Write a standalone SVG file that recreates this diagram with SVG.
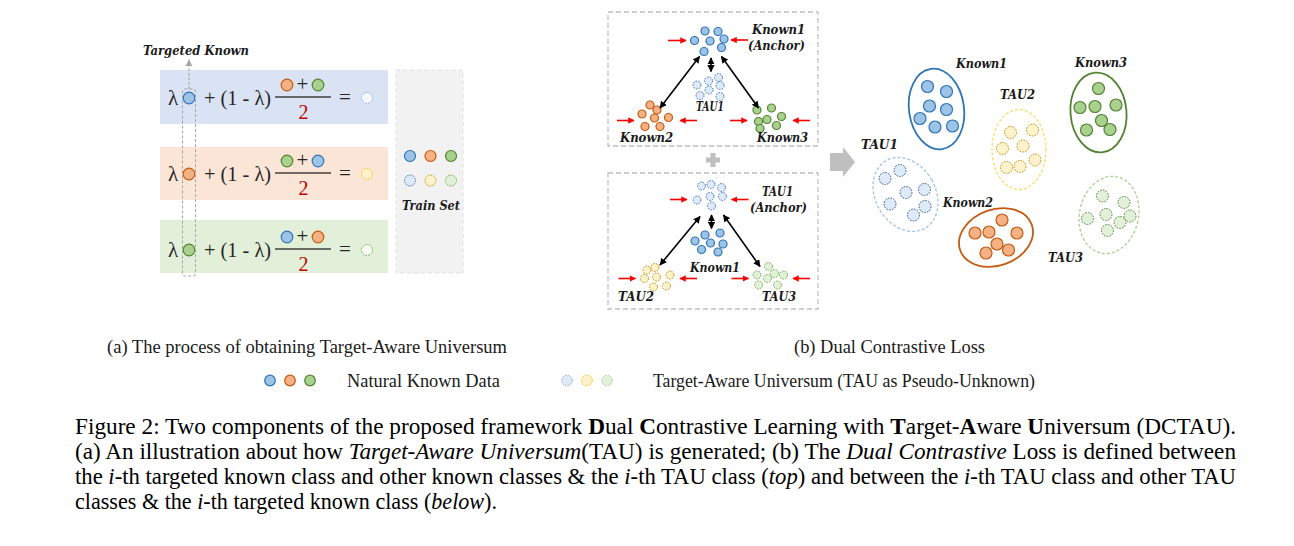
<svg xmlns="http://www.w3.org/2000/svg" width="1294" height="546" viewBox="0 0 1294 546">
<style>
.lbl{font-family:"DejaVu Serif","Liberation Serif",serif;font-weight:bold;font-style:italic;font-size:12px;fill:#1a1a1a}
.eq{font-family:"Liberation Serif",serif;font-size:21px;fill:#262626}
.two{font-family:"Liberation Serif",serif;font-size:20px;fill:#c00000}
.cap{font-family:"Liberation Serif",serif;font-size:22.5px;fill:#000}
.sub{font-family:"Liberation Serif",serif;font-size:18px;fill:#1a1a1a}
.kb{fill:#9dc3e6;stroke:#2e75b6;stroke-width:1.2}
.ko{fill:#f4b183;stroke:#c55a11;stroke-width:1.2}
.kg{fill:#a9d18e;stroke:#548235;stroke-width:1.2}
.tb{fill:#deebf7;stroke:#4472c4;stroke-width:1;stroke-dasharray:1.6 1.2}
.ty{fill:#fff2cc;stroke:#bf9000;stroke-width:1;stroke-dasharray:1.6 1.2}
.tg{fill:#e2f0d9;stroke:#70ad47;stroke-width:1;stroke-dasharray:1.6 1.2}
.box{fill:none;stroke:#bfbfbf;stroke-width:1.3;stroke-dasharray:5 3}
.red{stroke:#ff0000;stroke-width:1.6;fill:none;marker-end:url(#mr)}
.blk{stroke:#000;stroke-width:1.6;fill:none;marker-start:url(#mb);marker-end:url(#mb)}
.fr{stroke:#404040;stroke-width:1.3}
</style>
<defs>
<marker id="mr" viewBox="0 0 10 10" refX="9" refY="5" markerWidth="4" markerHeight="4" orient="auto"><path d="M0,0 L10,5 L0,10 z" fill="#ff0000"/></marker>
<marker id="mb" viewBox="0 0 10 10" refX="9" refY="5" markerWidth="4.5" markerHeight="4.5" orient="auto-start-reverse"><path d="M0,0 L10,5 L0,10 z" fill="#000"/></marker>
<marker id="mg" viewBox="0 0 10 10" refX="9" refY="5" markerWidth="6" markerHeight="6" orient="auto"><path d="M0,0 L10,5 L0,10 z" fill="#a6a6a6"/></marker>
</defs>
<rect width="1294" height="546" fill="#fff"/>

<!-- Panel (a) -->
<g id="row1">
<rect x="160" y="70" width="228" height="54" fill="#dae3f3"/>
<text class="eq" x="168" y="105">λ</text>
<circle class="kb" cx="189" cy="98" r="5.8"/>
<text class="eq" x="204" y="105" textLength="67" lengthAdjust="spacingAndGlyphs">+ (1 - λ)</text>
<circle class="ko" cx="287" cy="85" r="5.8"/>
<text class="eq" x="296.5" y="91">+</text>
<circle class="kg" cx="318" cy="85" r="5.8"/>
<line class="fr" x1="275" y1="97" x2="331" y2="97"/>
<text class="two" x="298.5" y="119">2</text>
<text class="eq" x="339" y="104">=</text>
<circle cx="367" cy="98" r="5.5" fill="#f4f8fd" stroke="#8faadc" stroke-width="1" stroke-dasharray="1.6 1.2"/>
</g>
<g id="row2">
<rect x="160" y="147" width="228" height="53" fill="#fbe5d6"/>
<text class="eq" x="168" y="181">λ</text>
<circle class="ko" cx="189" cy="174" r="5.8"/>
<text class="eq" x="204" y="181" textLength="67" lengthAdjust="spacingAndGlyphs">+ (1 - λ)</text>
<circle class="kg" cx="287" cy="161" r="5.8"/>
<text class="eq" x="296.5" y="167">+</text>
<circle class="kb" cx="318" cy="161" r="5.8"/>
<line class="fr" x1="275" y1="173" x2="331" y2="173"/>
<text class="two" x="298.5" y="195">2</text>
<text class="eq" x="339" y="180">=</text>
<circle cx="367" cy="174" r="5.5" fill="#fff2cc" stroke="#ffc000" stroke-width="1" stroke-dasharray="1.6 1.2"/>
</g>
<g id="row3">
<rect x="160" y="220" width="228" height="53" fill="#e2f0d9"/>
<text class="eq" x="168" y="257">λ</text>
<circle class="kg" cx="189" cy="250" r="5.8"/>
<text class="eq" x="204" y="257" textLength="67" lengthAdjust="spacingAndGlyphs">+ (1 - λ)</text>
<circle class="kb" cx="287" cy="237" r="5.8"/>
<text class="eq" x="296.5" y="243">+</text>
<circle class="ko" cx="318" cy="237" r="5.8"/>
<line class="fr" x1="275" y1="249" x2="331" y2="249"/>
<text class="two" x="298.5" y="271">2</text>
<text class="eq" x="339" y="256">=</text>
<circle cx="367" cy="250" r="5.5" fill="#f7fbf4" stroke="#70ad47" stroke-width="1" stroke-dasharray="1.6 1.2"/>
</g>
<g id="targeted-known">
<rect x="182.5" y="89" width="13" height="187" rx="2" fill="none" stroke="#a6a6a6" stroke-width="1" stroke-dasharray="3 2"/>
<text class="lbl" x="143" y="55" textLength="106" lengthAdjust="spacingAndGlyphs">Targeted Known</text>
</g>
<g id="train-set">
<rect x="396" y="70" width="67" height="203" fill="#f2f2f2" stroke="#e0e0e0" stroke-dasharray="4 3"/>
<circle class="kb" cx="410" cy="156" r="5.5"/>
<circle class="ko" cx="430.5" cy="156" r="5.5"/>
<circle class="kg" cx="451" cy="156" r="5.5"/>
<circle class="tb" cx="410" cy="180.5" r="5.5"/>
<circle class="ty" cx="430.5" cy="180.5" r="5.5"/>
<circle class="tg" cx="451" cy="180.5" r="5.5"/>
<text class="lbl" x="402" y="210" textLength="58" lengthAdjust="spacingAndGlyphs">Train Set</text>
</g>

<!-- Panel (b) top -->
<g id="top-panel">
<rect class="box" x="608" y="12" width="210" height="134"/>
</g>
<g id="top-known1">
<circle class="kb" cx="705" cy="31" r="4"/><circle class="kb" cx="718" cy="31.5" r="4"/>
<circle class="kb" cx="694.5" cy="40.5" r="4"/><circle class="kb" cx="710" cy="41" r="4"/>
<circle class="kb" cx="724" cy="39" r="4"/><circle class="kb" cx="704" cy="51.5" r="4"/>
<circle class="kb" cx="721.5" cy="47.5" r="4"/>
<text class="lbl" x="752" y="34" textLength="53" lengthAdjust="spacingAndGlyphs">Known1</text>
<text class="lbl" x="748" y="49.5" textLength="57" lengthAdjust="spacingAndGlyphs">(Anchor)</text>
</g>
<g id="top-tau1">
<circle class="tb" cx="697" cy="85" r="4"/><circle class="tb" cx="708.5" cy="81" r="4"/>
<circle class="tb" cx="718.5" cy="77.5" r="4"/><circle class="tb" cx="720" cy="85.5" r="4"/>
<circle class="tb" cx="709" cy="90" r="4"/><circle class="tb" cx="700" cy="95.5" r="4"/>
<circle class="tb" cx="720" cy="96.5" r="4"/>
<text class="lbl" x="696" y="111" textLength="28" lengthAdjust="spacingAndGlyphs">TAU1</text>
</g>
<g id="top-known2">
<circle class="ko" cx="650" cy="105" r="4"/><circle class="ko" cx="657" cy="110" r="4"/>
<circle class="ko" cx="642" cy="114" r="4"/><circle class="ko" cx="654.5" cy="118" r="4"/>
<circle class="ko" cx="668.5" cy="117.5" r="4"/><circle class="ko" cx="645" cy="126.5" r="4"/>
<circle class="ko" cx="660" cy="126.5" r="4"/>
<text class="lbl" x="620" y="142" textLength="53" lengthAdjust="spacingAndGlyphs">Known2</text>
</g>
<g id="top-known3">
<circle class="kg" cx="757" cy="110" r="4"/><circle class="kg" cx="771.5" cy="108" r="4"/>
<circle class="kg" cx="767" cy="119.5" r="4"/><circle class="kg" cx="781.5" cy="116.5" r="4"/>
<circle class="kg" cx="758.5" cy="121.5" r="4"/><circle class="kg" cx="776.5" cy="125.5" r="4"/>
<circle class="kg" cx="760" cy="128.5" r="4"/>
<text class="lbl" x="757" y="142" textLength="51" lengthAdjust="spacingAndGlyphs">Known3</text>
</g>

<g id="plus">
<path d="M710.5,153 h5 v4.5 h4.5 v5 h-4.5 v4.5 h-5 v-4.5 h-4.5 v-5 h4.5 z" fill="#bfbfbf"/>
</g>

<!-- Panel (b) bottom -->
<g id="bottom-panel">
<rect class="box" x="608" y="173" width="210" height="136"/>
</g>
<g id="bottom-tau1">
<circle class="tb" cx="701.5" cy="186" r="4"/><circle class="tb" cx="711" cy="184.5" r="4"/>
<circle class="tb" cx="721.5" cy="187.5" r="4"/><circle class="tb" cx="697" cy="200" r="4"/>
<circle class="tb" cx="710" cy="196.5" r="4"/><circle class="tb" cx="722.5" cy="196.5" r="4"/>
<circle class="tb" cx="711.5" cy="206" r="4"/>
<text class="lbl" x="762" y="195.5" textLength="31" lengthAdjust="spacingAndGlyphs">TAU1</text>
<text class="lbl" x="750" y="212" textLength="57" lengthAdjust="spacingAndGlyphs">(Anchor)</text>
</g>
<g id="bottom-known1">
<circle class="kb" cx="705" cy="235" r="4"/><circle class="kb" cx="720" cy="233" r="4"/>
<circle class="kb" cx="695" cy="241" r="4"/><circle class="kb" cx="710.5" cy="243" r="4"/>
<circle class="kb" cx="723" cy="244" r="4"/><circle class="kb" cx="701.5" cy="249.5" r="4"/>
<circle class="kb" cx="718" cy="252" r="4"/>
<text class="lbl" x="690" y="272" textLength="50" lengthAdjust="spacingAndGlyphs">Known1</text>
</g>
<g id="bottom-tau2">
<circle class="ty" cx="647" cy="270" r="4"/><circle class="ty" cx="655" cy="267.5" r="4"/>
<circle class="ty" cx="644.5" cy="278.5" r="4"/><circle class="ty" cx="656.5" cy="277" r="4"/>
<circle class="ty" cx="670" cy="275" r="4"/><circle class="ty" cx="653.5" cy="287" r="4"/>
<circle class="ty" cx="666.5" cy="286" r="4"/>
<text class="lbl" x="618" y="301" textLength="36" lengthAdjust="spacingAndGlyphs">TAU2</text>
</g>
<g id="bottom-tau3">
<circle class="tg" cx="757" cy="275" r="4"/><circle class="tg" cx="768.5" cy="266.5" r="4"/>
<circle class="tg" cx="774.5" cy="273.5" r="4"/><circle class="tg" cx="783.5" cy="275" r="4"/>
<circle class="tg" cx="767.5" cy="278.5" r="4"/><circle class="tg" cx="758.5" cy="285" r="4"/>
<circle class="tg" cx="777.5" cy="285" r="4"/>
<text class="lbl" x="762" y="301" textLength="34" lengthAdjust="spacingAndGlyphs">TAU3</text>
</g>

<g id="big-arrow">
<path d="M830,153 H843 V147 L855,162 L843,177 V171 H830 z" fill="#bfbfbf"/>
</g>

<!-- Right panel clusters -->
<g id="r-known1">
<ellipse cx="936.5" cy="109" rx="27.5" ry="40.5" transform="rotate(-8 936.5 109)" fill="none" stroke="#2e75b6" stroke-width="1.8"/>
<circle class="kb" cx="927.5" cy="86.5" r="6"/><circle class="kb" cx="946.5" cy="91.5" r="6"/>
<circle class="kb" cx="929.5" cy="106" r="6"/><circle class="kb" cx="946.5" cy="109.5" r="6"/>
<circle class="kb" cx="920" cy="118.5" r="6"/><circle class="kb" cx="935" cy="127" r="6"/>
<circle class="kb" cx="952.5" cy="126" r="6"/>
<text class="lbl" x="956" y="68" textLength="51" lengthAdjust="spacingAndGlyphs">Known1</text>
</g>
<g id="r-tau1">
<ellipse cx="905.5" cy="194.5" rx="30" ry="39" transform="rotate(-30 905.5 194.5)" fill="none" stroke="#9dc3e6" stroke-width="1.3" stroke-dasharray="3 2"/>
<circle class="tb" cx="885" cy="178.5" r="6" style="stroke:#2f5597"/><circle class="tb" cx="900" cy="170.5" r="6" style="stroke:#2f5597"/>
<circle class="tb" cx="906" cy="192.5" r="6" style="stroke:#2f5597"/><circle class="tb" cx="924.5" cy="189.5" r="6" style="stroke:#2f5597"/>
<circle class="tb" cx="890" cy="204" r="6" style="stroke:#2f5597"/><circle class="tb" cx="925" cy="206.5" r="6" style="stroke:#2f5597"/>
<circle class="tb" cx="913.5" cy="215" r="6" style="stroke:#2f5597"/>
<text class="lbl" x="861" y="149" textLength="37" lengthAdjust="spacingAndGlyphs">TAU1</text>
</g>
<g id="r-tau2">
<ellipse cx="1019" cy="149.5" rx="27" ry="40" fill="none" stroke="#ffd966" stroke-width="1.3" stroke-dasharray="3 2"/>
<circle class="ty" cx="1010.5" cy="132.5" r="6"/><circle class="ty" cx="1032.5" cy="130" r="6"/>
<circle class="ty" cx="1002.5" cy="148.5" r="6"/><circle class="ty" cx="1023" cy="146" r="6"/>
<circle class="ty" cx="1035" cy="160" r="6"/><circle class="ty" cx="1006.5" cy="167.5" r="6"/>
<circle class="ty" cx="1020" cy="166.5" r="6"/>
<text class="lbl" x="1000" y="99" textLength="35" lengthAdjust="spacingAndGlyphs">TAU2</text>
</g>
<g id="r-known3">
<ellipse cx="1098.5" cy="112.5" rx="28" ry="40" transform="rotate(-5 1098.5 112.5)" fill="none" stroke="#548235" stroke-width="1.8"/>
<circle class="kg" cx="1098.5" cy="88.5" r="6"/><circle class="kg" cx="1080" cy="107.5" r="6"/>
<circle class="kg" cx="1095" cy="106.5" r="6"/><circle class="kg" cx="1116" cy="105" r="6"/>
<circle class="kg" cx="1101.5" cy="120.5" r="6"/><circle class="kg" cx="1086.5" cy="130" r="6"/>
<circle class="kg" cx="1110" cy="129.5" r="6"/>
<text class="lbl" x="1075" y="67" textLength="52" lengthAdjust="spacingAndGlyphs">Known3</text>
</g>
<g id="r-known2">
<ellipse cx="996" cy="237.5" rx="38" ry="28" transform="rotate(-20 996 237.5)" fill="none" stroke="#c55a11" stroke-width="1.8"/>
<circle class="ko" cx="975" cy="233" r="6"/><circle class="ko" cx="989" cy="232" r="6"/>
<circle class="ko" cx="1002" cy="220" r="6"/><circle class="ko" cx="1017" cy="233" r="6"/>
<circle class="ko" cx="997" cy="244" r="6"/><circle class="ko" cx="1008.5" cy="250" r="6"/>
<circle class="ko" cx="986" cy="253" r="6"/>
<text class="lbl" x="943" y="207" textLength="50" lengthAdjust="spacingAndGlyphs">Known2</text>
</g>
<g id="r-tau3">
<ellipse cx="1109" cy="215" rx="29.5" ry="39" transform="rotate(12 1109 215)" fill="none" stroke="#a9d18e" stroke-width="1.3" stroke-dasharray="3 2"/>
<circle class="tg" cx="1102.5" cy="196" r="6" style="stroke:#548235"/><circle class="tg" cx="1124" cy="202.5" r="6" style="stroke:#548235"/>
<circle class="tg" cx="1087.5" cy="218.5" r="6" style="stroke:#548235"/><circle class="tg" cx="1106" cy="214.5" r="6" style="stroke:#548235"/>
<circle class="tg" cx="1130" cy="216" r="6" style="stroke:#548235"/><circle class="tg" cx="1120" cy="222.5" r="6" style="stroke:#548235"/>
<circle class="tg" cx="1107.5" cy="230.5" r="6" style="stroke:#548235"/>
<text class="lbl" x="1048" y="262" textLength="35" lengthAdjust="spacingAndGlyphs">TAU3</text>
</g>

<!-- Connectors -->
<g id="connectors">
<line x1="189" y1="89" x2="189" y2="60" stroke="#a6a6a6" stroke-width="1.2" stroke-dasharray="2.5 2" marker-end="url(#mg)"/>
<line class="red" x1="668" y1="40.5" x2="686" y2="40.5"/>
<line class="red" x1="748" y1="40" x2="731" y2="40"/>
<line class="red" x1="617" y1="120.5" x2="634" y2="120.5"/>
<line class="red" x1="697" y1="120.5" x2="680" y2="120.5"/>
<line class="red" x1="730" y1="120.5" x2="747" y2="120.5"/>
<line class="red" x1="810" y1="120.5" x2="793" y2="120.5"/>
<line class="blk" x1="711" y1="58" x2="711" y2="71.5"/>
<line class="blk" x1="699.5" y1="56.5" x2="660" y2="108"/>
<line class="blk" x1="721.5" y1="56.5" x2="758.5" y2="108"/>
<line class="red" x1="670" y1="199.5" x2="687" y2="199.5"/>
<line class="red" x1="748.5" y1="199.5" x2="731.5" y2="199.5"/>
<line class="red" x1="618.5" y1="278.5" x2="635.5" y2="278.5"/>
<line class="red" x1="697" y1="278.5" x2="680" y2="278.5"/>
<line class="red" x1="731.5" y1="278.5" x2="748.5" y2="278.5"/>
<line class="red" x1="810" y1="278.5" x2="793" y2="278.5"/>
<line class="blk" x1="711.5" y1="215" x2="711.5" y2="228.5"/>
<line class="blk" x1="700" y1="216.5" x2="660" y2="265"/>
<line class="blk" x1="723.5" y1="215" x2="760" y2="266.5"/>
</g>

<!-- Sub-captions and legend -->
<g id="subcaptions">
<text class="sub" x="107" y="353" textLength="400" lengthAdjust="spacingAndGlyphs">(a) The process of obtaining Target-Aware Universum</text>
<text class="sub" x="794" y="353" textLength="191" lengthAdjust="spacingAndGlyphs">(b) Dual Contrastive Loss</text>
</g>
<g id="legend">
<circle class="kb" cx="270" cy="380.5" r="5.3"/>
<circle class="ko" cx="290" cy="380.5" r="5.3"/>
<circle class="kg" cx="310" cy="380.5" r="5.3"/>
<text class="sub" x="347" y="386.5" textLength="153" lengthAdjust="spacingAndGlyphs">Natural Known Data</text>
<circle class="tb" cx="567" cy="380.5" r="5.3" style="stroke:#8faadc"/>
<circle class="ty" cx="587" cy="380.5" r="5.3" style="stroke:#ffc000"/>
<circle class="tg" cx="607" cy="380.5" r="5.3" style="stroke:#a9d18e"/>
<text class="sub" x="653" y="386.5" textLength="382" lengthAdjust="spacingAndGlyphs">Target-Aware Universum (TAU as Pseudo-Unknown)</text>
</g>

<!-- Figure caption -->
<g id="caption">
<text class="cap" x="75" y="434" textLength="1161" lengthAdjust="spacingAndGlyphs">Figure 2: Two components of the proposed framework <tspan font-weight="bold">D</tspan>ual <tspan font-weight="bold">C</tspan>ontrastive Learning with <tspan font-weight="bold">T</tspan>arget-<tspan font-weight="bold">A</tspan>ware <tspan font-weight="bold">U</tspan>niversum (DCTAU).</text>
<text class="cap" x="75" y="459" textLength="1161" lengthAdjust="spacingAndGlyphs">(a) An illustration about how <tspan font-style="italic">Target-Aware Universum</tspan>(TAU) is generated; (b) The <tspan font-style="italic">Dual Contrastive</tspan> Loss is defined between</text>
<text class="cap" x="75" y="484" textLength="1161" lengthAdjust="spacingAndGlyphs">the <tspan font-style="italic">i</tspan>-th targeted known class and other known classes &amp; the <tspan font-style="italic">i</tspan>-th TAU class (<tspan font-style="italic">top</tspan>) and between the <tspan font-style="italic">i</tspan>-th TAU class and other TAU</text>
<text class="cap" x="75" y="509" textLength="422" lengthAdjust="spacingAndGlyphs">classes &amp; the <tspan font-style="italic">i</tspan>-th targeted known class (<tspan font-style="italic">below</tspan>).</text>
</g>
</svg>
